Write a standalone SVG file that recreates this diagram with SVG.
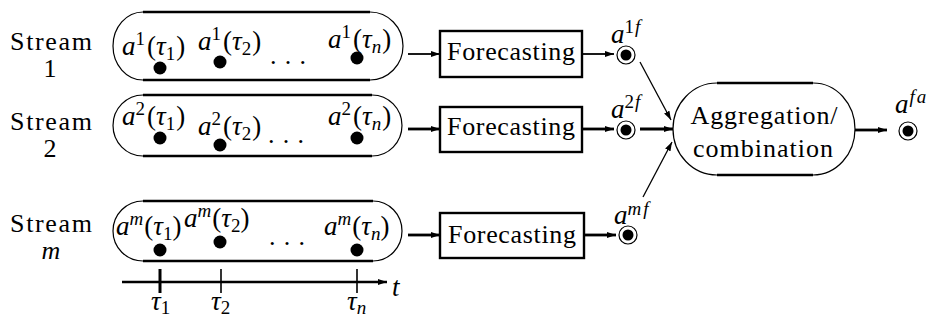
<svg xmlns="http://www.w3.org/2000/svg" width="929" height="320" viewBox="0 0 929 320">
<style>
.thick{stroke:#000;stroke-width:2.6;fill:none}
.thin{stroke:#000;stroke-width:1.2;fill:none}
.box{stroke:#000;stroke-width:2.4;fill:#fff}
.a1{stroke:#000;stroke-width:1.8;fill:none}
.a2{stroke:#000;stroke-width:2.8;fill:none}
.ad{stroke:#000;stroke-width:1.3;fill:none}
.ring{stroke:#000;stroke-width:1.2;fill:#fff}
</style>
<defs>
<marker id="ah" markerUnits="userSpaceOnUse" markerWidth="10" markerHeight="8" refX="9" refY="4" orient="auto">
<path d="M0,1 L9,4 L0,7 z" fill="#000"/>
</marker>
</defs>

<g id="stream1">
<text font-family="Liberation Serif" font-size="26" x="51" y="50" text-anchor="middle" textLength="82">Stream</text>
<text font-family="Liberation Serif" font-size="26" x="50" y="77" text-anchor="middle">1</text>
<path class="thick" d="M143,12 H370 M143,80 H370"/>
<path class="thin" d="M370,12 A33,34 0 0 1 370,80 M143,80 A30,34 0 0 1 143,12"/>
<text font-family="Liberation Serif" font-size="27" x="122" y="55"><tspan font-style="italic">a</tspan><tspan font-size="19" dy="-10">1</tspan><tspan dy="10" dx="2">(</tspan><tspan font-style="italic">τ</tspan><tspan font-size="19" dy="5">1</tspan><tspan dy="-5" dx="1">)</tspan></text>
<text font-family="Liberation Serif" font-size="27" x="198" y="50"><tspan font-style="italic">a</tspan><tspan font-size="19" dy="-10">1</tspan><tspan dy="10" dx="2">(</tspan><tspan font-style="italic">τ</tspan><tspan font-size="19" dy="5">2</tspan><tspan dy="-5" dx="1">)</tspan></text>
<text font-family="Liberation Serif" font-size="27" x="328" y="48"><tspan font-style="italic">a</tspan><tspan font-size="19" dy="-10">1</tspan><tspan dy="10" dx="2">(</tspan><tspan font-style="italic">τ</tspan><tspan font-size="19" font-style="italic" dy="5">n</tspan><tspan dy="-5" dx="1">)</tspan></text>
<text font-family="Liberation Serif" font-size="26" x="270" y="64" textLength="36">. . .</text>
<circle cx="160" cy="68" r="6.5"/>
<circle cx="220" cy="62" r="6.5"/>
<circle cx="357" cy="58" r="6.5"/>
</g>

<g id="stream2">
<text font-family="Liberation Serif" font-size="26" x="51" y="130" text-anchor="middle" textLength="82">Stream</text>
<text font-family="Liberation Serif" font-size="26" x="50" y="157" text-anchor="middle">2</text>
<path class="thick" d="M143,95 H372 M143,156 H372"/>
<path class="thin" d="M372,95 A30,30.5 0 0 1 372,156 M143,156 A30,30.5 0 0 1 143,95"/>
<text font-family="Liberation Serif" font-size="27" x="122" y="125"><tspan font-style="italic">a</tspan><tspan font-size="19" dy="-10">2</tspan><tspan dy="10" dx="2">(</tspan><tspan font-style="italic">τ</tspan><tspan font-size="19" dy="5">1</tspan><tspan dy="-5" dx="1">)</tspan></text>
<text font-family="Liberation Serif" font-size="27" x="198" y="135"><tspan font-style="italic">a</tspan><tspan font-size="19" dy="-10">2</tspan><tspan dy="10" dx="2">(</tspan><tspan font-style="italic">τ</tspan><tspan font-size="19" dy="5">2</tspan><tspan dy="-5" dx="1">)</tspan></text>
<text font-family="Liberation Serif" font-size="27" x="328" y="125"><tspan font-style="italic">a</tspan><tspan font-size="19" dy="-10">2</tspan><tspan dy="10" dx="2">(</tspan><tspan font-style="italic">τ</tspan><tspan font-size="19" font-style="italic" dy="5">n</tspan><tspan dy="-5" dx="1">)</tspan></text>
<text font-family="Liberation Serif" font-size="26" x="268" y="143" textLength="36">. . .</text>
<circle cx="160" cy="138" r="6.5"/>
<circle cx="220" cy="145" r="6.5"/>
<circle cx="357" cy="138" r="6.5"/>
</g>

<g id="streamm">
<text font-family="Liberation Serif" font-size="26" x="51" y="232" text-anchor="middle" textLength="82">Stream</text>
<text font-family="Liberation Serif" font-size="26" font-style="italic" x="51" y="259" text-anchor="middle">m</text>
<path class="thick" d="M143,201 H373 M143,261 H373"/>
<path class="thin" d="M373,201 A29,30 0 0 1 373,261 M143,261 A30,30 0 0 1 143,201"/>
<text font-family="Liberation Serif" font-size="27" x="116" y="235"><tspan font-style="italic">a</tspan><tspan font-size="19" font-style="italic" dy="-10">m</tspan><tspan dy="10" dx="1">(</tspan><tspan font-style="italic">τ</tspan><tspan font-size="19" dy="5">1</tspan><tspan dy="-5">)</tspan></text>
<text font-family="Liberation Serif" font-size="27" x="184" y="227"><tspan font-style="italic">a</tspan><tspan font-size="19" font-style="italic" dy="-10">m</tspan><tspan dy="10" dx="1">(</tspan><tspan font-style="italic">τ</tspan><tspan font-size="19" dy="5">2</tspan><tspan dy="-5">)</tspan></text>
<text font-family="Liberation Serif" font-size="27" x="324" y="235"><tspan font-style="italic">a</tspan><tspan font-size="19" font-style="italic" dy="-10">m</tspan><tspan dy="10" dx="1">(</tspan><tspan font-style="italic">τ</tspan><tspan font-size="19" font-style="italic" dy="5">n</tspan><tspan dy="-5">)</tspan></text>
<text font-family="Liberation Serif" font-size="26" x="269" y="245" textLength="36">. . .</text>
<circle cx="160" cy="250" r="6.5"/>
<circle cx="220" cy="242" r="6.5"/>
<circle cx="357" cy="250" r="6.5"/>
</g>

<g id="axis">
<line class="thick" x1="122" y1="282" x2="387" y2="282" stroke-width="2.2" marker-end="url(#ah)"/>
<line x1="160" y1="269" x2="160" y2="293" stroke="#000" stroke-width="3"/>
<line x1="221" y1="269" x2="221" y2="293" stroke="#000" stroke-width="1.6"/>
<line x1="357" y1="269" x2="357" y2="293" stroke="#000" stroke-width="1.6"/>
<text font-family="Liberation Serif" font-size="27" font-style="italic" x="392" y="296">t</text>
<text font-family="Liberation Serif" font-size="27" x="151" y="310"><tspan font-style="italic">τ</tspan><tspan font-size="19" dy="4">1</tspan></text>
<text font-family="Liberation Serif" font-size="27" x="211" y="310"><tspan font-style="italic">τ</tspan><tspan font-size="19" dy="4">2</tspan></text>
<text font-family="Liberation Serif" font-size="27" x="347" y="310"><tspan font-style="italic">τ</tspan><tspan font-size="19" font-style="italic" dy="4">n</tspan></text>
</g>

<g id="forecast1">
<rect class="box" x="440" y="31" width="142" height="46"/>
<text font-family="Liberation Serif" font-size="26" x="511" y="60" text-anchor="middle" textLength="128">Forecasting</text>
</g>
<g id="forecast2">
<rect class="box" x="440" y="107" width="142" height="45"/>
<text font-family="Liberation Serif" font-size="26" x="511" y="135" text-anchor="middle" textLength="128">Forecasting</text>
</g>
<g id="forecastm">
<rect class="box" x="440" y="213" width="144" height="45"/>
<text font-family="Liberation Serif" font-size="26" x="512" y="243" text-anchor="middle" textLength="128">Forecasting</text>
</g>

<g id="out1f">
<circle class="ring" cx="626" cy="55" r="9"/>
<circle cx="626" cy="55" r="5.5"/>
<text font-family="Liberation Serif" font-size="27" x="611" y="43"><tspan font-style="italic">a</tspan><tspan font-size="19" dy="-10">1</tspan><tspan font-size="19" font-style="italic" dx="1">f</tspan></text>
</g>
<g id="out2f">
<circle class="ring" cx="626" cy="130" r="9"/>
<circle cx="626" cy="130" r="5.5"/>
<text font-family="Liberation Serif" font-size="27" x="611" y="118"><tspan font-style="italic">a</tspan><tspan font-size="19" dy="-10">2</tspan><tspan font-size="19" font-style="italic" dx="1">f</tspan></text>
</g>
<g id="outmf">
<circle class="ring" cx="628" cy="235" r="9"/>
<circle cx="628" cy="235" r="5.5"/>
<text font-family="Liberation Serif" font-size="27" x="614" y="224"><tspan font-style="italic">a</tspan><tspan font-size="19" font-style="italic" dy="-9">m</tspan><tspan font-size="19" font-style="italic" dx="2">f</tspan></text>
</g>

<g id="aggregation">
<path class="thick" d="M717,83 H813 M717,175 H813"/>
<path class="thin" d="M813,83 A42,46 0 0 1 813,175 M717,175 A44,46 0 0 1 717,83"/>
<text font-family="Liberation Serif" font-size="26" x="764" y="124" text-anchor="middle" textLength="147">Aggregation/</text>
<text font-family="Liberation Serif" font-size="26" x="763" y="157" text-anchor="middle" textLength="140">combination</text>
</g>

<g id="outfa">
<circle class="ring" cx="908" cy="131" r="9"/>
<circle cx="908" cy="131" r="5.5"/>
<text font-family="Liberation Serif" font-size="27" x="895" y="113"><tspan font-style="italic">a</tspan><tspan font-size="19" font-style="italic" dy="-10" dx="1">f</tspan><tspan font-size="19" font-style="italic" dx="2">a</tspan></text>
</g>

<g id="connectors">
<line class="a1" x1="408" y1="54" x2="440" y2="54" marker-end="url(#ah)"/>
<line class="a1" x1="582" y1="54" x2="614" y2="54" marker-end="url(#ah)"/>
<line class="a2" x1="408" y1="129" x2="440" y2="129" marker-end="url(#ah)"/>
<line class="a2" x1="582" y1="129" x2="614" y2="129" marker-end="url(#ah)"/>
<line class="a2" x1="408" y1="235" x2="440" y2="235" marker-end="url(#ah)"/>
<line class="a2" x1="584" y1="235" x2="616" y2="235" marker-end="url(#ah)"/>
<line class="ad" x1="640" y1="62" x2="671" y2="120" marker-end="url(#ah)"/>
<line class="a2" x1="640" y1="129" x2="673" y2="129" marker-end="url(#ah)"/>
<line class="ad" x1="643" y1="197" x2="672" y2="142" marker-end="url(#ah)"/>
<line class="a2" x1="855" y1="130" x2="887" y2="130" marker-end="url(#ah)"/>
</g>
</svg>
